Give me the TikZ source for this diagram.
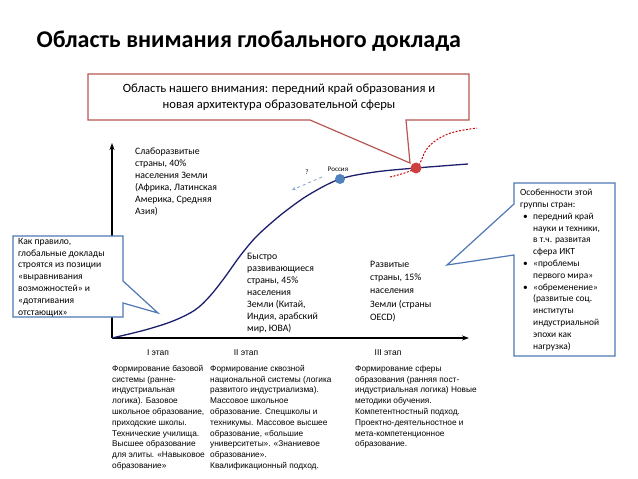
\documentclass[tikz,border=0pt]{standalone}
\usepackage{fontspec}
\setmainfont{Carlito}
\newfontfamily\arialfont{Liberation Sans}
\usetikzlibrary{arrows.meta}

\definecolor{calloutred}{RGB}{182,88,82}
\definecolor{calloutblue}{RGB}{79,120,180}
\definecolor{curvenavy}{RGB}{28,30,110}
\definecolor{russiablue}{RGB}{79,129,189}
\definecolor{frontred}{RGB}{205,65,65}
\definecolor{dashred}{RGB}{192,10,10}
\definecolor{askblue}{RGB}{140,170,205}

\begin{document}
\begin{tikzpicture}[x=1pt, y=-1pt, font=\fontsize{9.8}{12}\selectfont,
  axis/.style={line width=1.3pt, -{Stealth[length=7pt, width=5pt]}},
  redcallout/.style={draw=calloutred, line width=1.2pt, fill=white},
  bluecallout/.style={draw=calloutblue, line width=1.2pt, fill=white},
  dot/.style={circle, inner sep=0pt, minimum size=10pt},
  plottext/.style={anchor=north west, inner sep=0pt, align=left},
  stagetext/.style={anchor=north west, inner sep=0pt, align=left,
    font=\arialfont\fontsize{8.3}{10.8}\selectfont}]
\useasboundingbox (0,0) rectangle (638,479);

% Title
\node[anchor=west, font=\fontsize{24}{28}\selectfont\bfseries] (title) at (33,41)
  {Область внимания глобального доклада};

% Axes
\coordinate (origin) at (112,338);
\coordinate (ytop) at (112,143);
\coordinate (xend) at (469,338);
\draw[axis] (origin) -- (ytop);
\draw[axis] (origin) -- (xend);

% Development curve
\draw[curvenavy, line width=1.3pt] plot[smooth, tension=0.55] coordinates
  {(112,338) (145,330) (173,321) (195,310) (210,296) (225,277) (240,256)
   (255,238) (270,224) (287,210) (310,194) (340,179) (375,172) (416,168) (468,164)};

% Frontier (red dashed)
\draw[dashred, line width=1pt, dash pattern=on 2pt off 1.5pt] plot[smooth, tension=0.6]
  coordinates {(390,177) (416,168) (426,150) (438,139) (454,132) (477,128)};

% Top callout
\draw[redcallout] (88,74) -- (469,74) -- (469,120) -- (406,120) -- (410,163)
  -- (310,120) -- (88,120) -- cycle;
\node[align=center, font=\fontsize{12.6}{16}\selectfont] (focus) at (279,97)
  {Область нашего внимания: передний край образования и\\
   новая архитектура образовательной сферы};

% Russia and the question
\coordinate (askstart) at (322,177);
\coordinate (askend) at (292,190);
\draw[askblue, line width=0.9pt, dashed, -{Stealth[length=4pt, width=4pt]}] (askstart) -- (askend);
\node[font=\fontsize{7}{8}\selectfont] (ask) at (307,172) {?};
\node[dot, fill=russiablue] (russia) at (340,179) {};
\node[font=\fontsize{7}{8}\selectfont] (russialbl) at (338,169) {Россия};
\node[dot, fill=frontred, minimum size=11pt] (front) at (416,168) {};

% Country groups
\node[plottext] (poor) at (135,148)
  {Слаборазвитые\\ страны, 40\%\\ населения Земли\\ (Африка, Латинская\\
   Америка, Средняя\\ Азия)};
\node[plottext] (fast) at (247,253)
  {Быстро\\ развивающиеся\\ страны, 45\%\\ населения\\ Земли (Китай,\\
   Индия, арабский\\ мир, ЮВА)};
\node[plottext, font=\fontsize{9.8}{13.2}\selectfont] (rich) at (370,261)
  {Развитые\\ страны, 15\%\\ населения\\ Земли (страны\\ OECD)};

% Left callout
\draw[bluecallout] (13,236) -- (123,236) -- (123,281) -- (158,313) -- (123,303)
  -- (123,317) -- (13,317) -- cycle;
\node[plottext, font=\fontsize{9.6}{11.8}\selectfont] (usual) at (18,238)
  {Как правило,\\ глобальные доклады\\ строятся из позиции\\ «выравнивания\\
   возможностей» и\\ «дотягивания\\ отстающих»};

% Right callout
\draw[bluecallout] (514,183) -- (615,183) -- (615,356) -- (514,356) -- (514,255)
  -- (447,265) -- (514,204) -- cycle;
\node[plottext, font=\fontsize{9.4}{11.8}\selectfont] (features) at (520,189)
  {Особенности этой\\ группы стран:\\
   \hspace*{3pt}\makebox[10pt][l]{•}передний край\\
   \hspace*{13pt}науки и техники,\\ \hspace*{13pt}в т.ч. развитая\\
   \hspace*{13pt}сфера ИКТ\\
   \hspace*{3pt}\makebox[10pt][l]{•}«проблемы\\ \hspace*{13pt}первого мира»\\
   \hspace*{3pt}\makebox[10pt][l]{•}«обременение»\\
   \hspace*{13pt}(развитые соц.\\ \hspace*{13pt}институты\\
   \hspace*{13pt}индустриальной\\ \hspace*{13pt}эпохи как\\ \hspace*{13pt}нагрузка)};

% Stages
\node[font=\arialfont\fontsize{8.5}{10}\selectfont] (st1) at (158,353) {I этап};
\node[font=\arialfont\fontsize{8.5}{10}\selectfont] (st2) at (246,353) {II этап};
\node[font=\arialfont\fontsize{8.5}{10}\selectfont] (st3) at (388,353) {III этап};

\node[stagetext] (col1) at (112,365)
  {Формирование базовой\\ системы (ранне-\\ индустриальная\\ логика). Базовое\\
   школьное образование,\\ приходские школы.\\ Технические училища.\\
   Высшее образование\\ для элиты. «Навыковое\\ образование»};
\node[stagetext] (col2) at (210,365)
  {Формирование сквозной\\ национальной системы (логика\\ развитого индустриализма).\\
   Массовое школьное\\ образование. Спецшколы и\\ техникумы. Массовое высшее\\
   образование, «большие\\ университеты». «Знаниевое\\ образование».\\
   Квалификационный подход.};
\node[stagetext] (col3) at (355,365)
  {Формирование сферы\\ образования (ранняя пост-\\ индустриальная логика) Новые\\
   методики обучения.\\ Компетентностный подход.\\ Проектно-деятельностное и\\
   мета-компетенционное\\ образование.};

\end{tikzpicture}
\end{document}
